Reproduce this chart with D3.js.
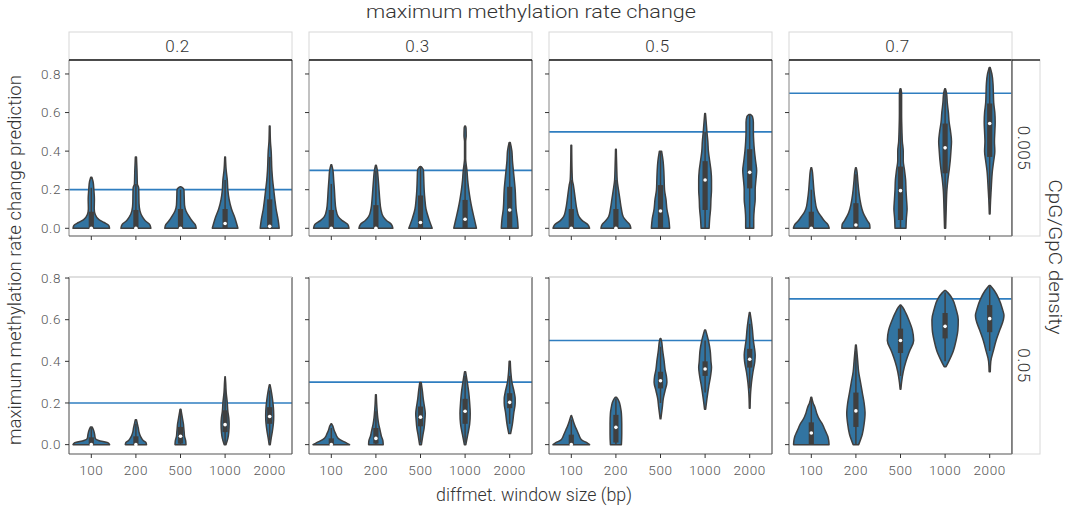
<!DOCTYPE html>
<html><head><meta charset="utf-8">
<script src="https://cdn.jsdelivr.net/npm/d3@7"></script>
<style>
body{margin:0;background:#fff}
svg text{font-family:Roboto,"Liberation Sans",sans-serif;font-weight:300;fill:#333}
</style>
</head><body>
<svg id="chart" width="1068" height="510"></svg>
<script>
// ---------------- data ----------------
const colValues = [0.2, 0.3, 0.5, 0.7];          // maximum methylation rate change (columns)
const rowValues = [0.005, 0.05];                 // CpG/GpC density (rows)
const windowSizes = ["100", "200", "500", "1000", "2000"];
const yTicks = [0.0, 0.2, 0.4, 0.6, 0.8];
const rowYDomains = [[-0.04, 0.8725], [-0.045, 0.805]];

// violin profiles: per window size, list of [value, relative density width]
const prof_r0_c0 = [
  [[0,1],[0.015,0.95],[0.03,0.7],[0.045,0.42],[0.07,0.22],[0.1,0.16],[0.15,0.17],[0.2,0.14],[0.24,0.1],[0.265,0.03]],
  [[0,0.82],[0.02,0.75],[0.04,0.5],[0.06,0.35],[0.09,0.22],[0.13,0.17],[0.18,0.16],[0.21,0.15],[0.23,0.08],[0.3,0.06],[0.37,0.03]],
  [[0,0.86],[0.02,0.8],[0.04,0.62],[0.06,0.48],[0.09,0.3],[0.12,0.22],[0.17,0.2],[0.2,0.19],[0.21,0.12],[0.215,0.03]],
  [[0,0.7],[0.05,0.55],[0.1,0.35],[0.15,0.22],[0.2,0.15],[0.25,0.12],[0.3,0.06],[0.37,0.02]],
  [[0,0.52],[0.05,0.45],[0.1,0.35],[0.15,0.28],[0.2,0.22],[0.25,0.16],[0.3,0.12],[0.4,0.08],[0.45,0.04],[0.53,0.02]]
];
const prof_r0_c1 = [
  [[0,0.97],[0.02,0.9],[0.04,0.6],[0.06,0.38],[0.1,0.25],[0.15,0.2],[0.2,0.17],[0.25,0.13],[0.3,0.09],[0.33,0.02]],
  [[0,0.93],[0.02,0.85],[0.04,0.58],[0.06,0.4],[0.1,0.27],[0.15,0.21],[0.2,0.17],[0.25,0.13],[0.3,0.08],[0.327,0.02]],
  [[0,0.64],[0.05,0.45],[0.1,0.3],[0.15,0.24],[0.2,0.2],[0.25,0.18],[0.3,0.16],[0.315,0.08],[0.32,0.02]],
  [[0,0.62],[0.05,0.5],[0.1,0.38],[0.15,0.28],[0.2,0.2],[0.25,0.14],[0.3,0.1],[0.33,0.06],[0.36,0.03],[0.45,0.03],[0.48,0.06],[0.52,0.05],[0.53,0.02]],
  [[0,0.46],[0.05,0.42],[0.1,0.35],[0.2,0.3],[0.3,0.2],[0.35,0.15],[0.4,0.12],[0.445,0.03]]
];
const prof_r0_c2 = [
  [[0,1],[0.02,0.9],[0.04,0.6],[0.06,0.42],[0.1,0.3],[0.15,0.22],[0.2,0.15],[0.22,0.12],[0.25,0.06],[0.3,0.04],[0.43,0.02]],
  [[0,0.82],[0.02,0.75],[0.04,0.55],[0.06,0.4],[0.1,0.3],[0.15,0.22],[0.2,0.14],[0.25,0.07],[0.3,0.05],[0.41,0.02]],
  [[0,0.5],[0.05,0.45],[0.1,0.35],[0.15,0.3],[0.2,0.22],[0.25,0.2],[0.3,0.18],[0.35,0.14],[0.4,0.06]],
  [[0,0.22],[0.05,0.25],[0.1,0.3],[0.15,0.32],[0.2,0.35],[0.25,0.35],[0.3,0.32],[0.35,0.25],[0.4,0.18],[0.45,0.15],[0.5,0.1],[0.55,0.06],[0.595,0.02]],
  [[0,0.22],[0.05,0.22],[0.1,0.25],[0.15,0.3],[0.2,0.3],[0.25,0.34],[0.3,0.38],[0.35,0.32],[0.4,0.26],[0.45,0.22],[0.5,0.2],[0.55,0.2],[0.58,0.15],[0.59,0.05]]
];
const prof_r0_c3 = [
  [[0,0.98],[0.02,0.9],[0.04,0.7],[0.06,0.55],[0.08,0.4],[0.1,0.3],[0.15,0.2],[0.2,0.14],[0.25,0.1],[0.3,0.05],[0.314,0.02]],
  [[0,0.77],[0.02,0.75],[0.04,0.62],[0.06,0.5],[0.08,0.4],[0.1,0.33],[0.15,0.22],[0.2,0.15],[0.25,0.1],[0.3,0.05],[0.314,0.02]],
  [[0,0.3],[0.05,0.32],[0.1,0.36],[0.15,0.33],[0.2,0.3],[0.25,0.28],[0.3,0.22],[0.35,0.15],[0.4,0.15],[0.45,0.1],[0.5,0.08],[0.6,0.06],[0.7,0.06],[0.724,0.02]],
  [[0,0.03],[0.1,0.06],[0.2,0.1],[0.25,0.15],[0.3,0.22],[0.35,0.28],[0.4,0.32],[0.45,0.35],[0.5,0.3],[0.55,0.22],[0.6,0.18],[0.65,0.12],[0.7,0.08],[0.724,0.02]],
  [[0.074,0.02],[0.15,0.05],[0.2,0.08],[0.3,0.15],[0.35,0.22],[0.4,0.28],[0.45,0.26],[0.5,0.28],[0.55,0.3],[0.6,0.28],[0.65,0.22],[0.7,0.2],[0.75,0.18],[0.8,0.12],[0.833,0.03]]
];
const prof_r1_c0 = [
  [[0,1],[0.01,0.9],[0.02,0.4],[0.03,0.22],[0.05,0.18],[0.07,0.12],[0.085,0.04]],
  [[0,0.58],[0.01,0.55],[0.02,0.4],[0.04,0.25],[0.06,0.17],[0.08,0.13],[0.1,0.08],[0.12,0.03]],
  [[0,0.3],[0.02,0.28],[0.04,0.22],[0.06,0.2],[0.08,0.18],[0.1,0.16],[0.12,0.12],[0.14,0.08],[0.17,0.02]],
  [[0,0.05],[0.03,0.15],[0.06,0.2],[0.1,0.22],[0.13,0.2],[0.16,0.15],[0.2,0.12],[0.25,0.06],[0.3,0.03],[0.326,0.01]],
  [[0,0.03],[0.03,0.08],[0.06,0.14],[0.1,0.2],[0.14,0.22],[0.18,0.2],[0.22,0.15],[0.25,0.1],[0.287,0.02]]
];
const prof_r1_c1 = [
  [[0,1],[0.01,0.8],[0.02,0.55],[0.03,0.38],[0.04,0.3],[0.05,0.25],[0.07,0.15],[0.09,0.08],[0.1,0.02]],
  [[0,0.4],[0.02,0.38],[0.04,0.3],[0.06,0.25],[0.08,0.2],[0.1,0.15],[0.13,0.1],[0.16,0.07],[0.2,0.04],[0.24,0.02]],
  [[0,0.05],[0.04,0.12],[0.08,0.2],[0.12,0.24],[0.15,0.26],[0.18,0.22],[0.22,0.15],[0.26,0.1],[0.298,0.04]],
  [[0,0.04],[0.05,0.15],[0.1,0.25],[0.15,0.28],[0.2,0.25],[0.25,0.2],[0.3,0.12],[0.35,0.03]],
  [[0.053,0.05],[0.1,0.15],[0.15,0.22],[0.2,0.3],[0.22,0.3],[0.25,0.25],[0.3,0.12],[0.35,0.06],[0.4,0.03]]
];
const prof_r1_c2 = [
  [[0,1],[0.01,0.85],[0.02,0.6],[0.03,0.5],[0.05,0.4],[0.07,0.3],[0.09,0.2],[0.11,0.12],[0.13,0.05],[0.14,0.01]],
  [[0,0.3],[0.05,0.32],[0.1,0.32],[0.15,0.3],[0.18,0.25],[0.2,0.2],[0.22,0.1],[0.228,0.03]],
  [[0.124,0.02],[0.18,0.1],[0.22,0.15],[0.26,0.25],[0.3,0.35],[0.33,0.32],[0.36,0.25],[0.4,0.2],[0.45,0.12],[0.5,0.05],[0.51,0.02]],
  [[0.17,0.03],[0.22,0.1],[0.28,0.2],[0.33,0.3],[0.37,0.35],[0.4,0.32],[0.45,0.28],[0.5,0.18],[0.55,0.03]],
  [[0.175,0.02],[0.25,0.05],[0.3,0.1],[0.35,0.18],[0.4,0.28],[0.43,0.3],[0.47,0.25],[0.5,0.2],[0.55,0.15],[0.6,0.08],[0.634,0.02]]
];
const prof_r1_c3 = [
  [[0,0.97],[0.02,0.95],[0.04,0.9],[0.06,0.8],[0.08,0.7],[0.1,0.6],[0.12,0.45],[0.15,0.3],[0.18,0.2],[0.2,0.1],[0.228,0.02]],
  [[0,0.15],[0.05,0.35],[0.1,0.45],[0.15,0.5],[0.2,0.45],[0.25,0.35],[0.3,0.25],[0.35,0.15],[0.4,0.1],[0.45,0.05],[0.478,0.02]],
  [[0.266,0.02],[0.3,0.06],[0.35,0.15],[0.4,0.3],[0.45,0.5],[0.5,0.72],[0.55,0.65],[0.6,0.45],[0.63,0.3],[0.66,0.12],[0.67,0.03]],
  [[0.374,0.05],[0.4,0.2],[0.45,0.45],[0.5,0.6],[0.55,0.7],[0.6,0.72],[0.65,0.6],[0.7,0.4],[0.73,0.15],[0.74,0.03]],
  [[0.35,0.03],[0.4,0.06],[0.45,0.2],[0.5,0.35],[0.55,0.55],[0.6,0.75],[0.62,0.78],[0.65,0.7],[0.7,0.5],[0.74,0.25],[0.764,0.03]]
];

// inner box stats per window size: [whiskerLow, q1, median, q3, whiskerHigh]
const box_r0_c0 = [[0,0,0,0.086,0.21],[0,0,0,0.095,0.23],[0,0,0,0.1,0.2],[0,0,0.025,0.1,0.25],[0,0,0.01,0.15,0.37]];
const box_r0_c1 = [[0,0,0,0.095,0.23],[0,0,0,0.12,0.3],[0,0,0.03,0.17,0.32],[0,0,0.047,0.147,0.33],[0,0,0.095,0.215,0.44]];
const box_r0_c2 = [[0,0,0,0.1,0.25],[0,0,0,0.1,0.25],[0,0,0.09,0.224,0.4],[0,0.095,0.25,0.348,0.5],[0,0.207,0.29,0.41,0.59]];
const box_r0_c3 = [[0,0,0,0.086,0.2],[0,0,0.017,0.13,0.28],[0,0.043,0.195,0.32,0.72],[0.02,0.285,0.417,0.543,0.72],[0.15,0.37,0.543,0.647,0.833]];
const box_r1_c0 = [[0,0,0,0.035,0.08],[0,0,0,0.04,0.1],[0,0.005,0.04,0.085,0.17],[0,0.06,0.096,0.165,0.27],[0.02,0.1,0.135,0.18,0.26]];
const box_r1_c1 = [[0,0,0,0.03,0.08],[0,0.005,0.03,0.08,0.16],[0.01,0.088,0.132,0.183,0.29],[0.01,0.1,0.16,0.22,0.33],[0.1,0.175,0.203,0.247,0.33]];
const box_r1_c2 = [[0,0,0,0.048,0.12],[0,0.01,0.083,0.143,0.22],[0.2,0.27,0.307,0.35,0.47],[0.25,0.33,0.363,0.4,0.5],[0.27,0.37,0.41,0.46,0.58]];
const box_r1_c3 = [[0,0,0.056,0.107,0.22],[0,0.085,0.162,0.25,0.45],[0.33,0.44,0.5,0.557,0.67],[0.4,0.51,0.568,0.632,0.73],[0.45,0.54,0.605,0.67,0.76]];

const profiles = [[prof_r0_c0, prof_r0_c1, prof_r0_c2, prof_r0_c3],
                  [prof_r1_c0, prof_r1_c1, prof_r1_c2, prof_r1_c3]];
const boxes = [[box_r0_c0, box_r0_c1, box_r0_c2, box_r0_c3],
               [box_r1_c0, box_r1_c1, box_r1_c2, box_r1_c3]];

// ---------------- layout ----------------
const svg = d3.select("#chart");
const panelX0 = 69, panelW = 223, panelGap = 17;
const rowTop = [60, 277], rowBot = [236, 454];
const stripTop = 32;
const stripRightX = 1012, stripRightW = 28;
const violinFill = "#3274a1", darkGray = "#3f3f3f", refColor = "#2f7ec0";

const yScales = rowYDomains.map((d, r) => d3.scaleLinear().domain(d).range([rowBot[r], rowTop[r]]));

colValues.forEach((cv, c) => {
  const px = panelX0 + c * (panelW + panelGap);
  const x = d3.scaleBand().domain(windowSizes).range([px, px + panelW]).padding(0);
  const halfMax = x.bandwidth() * 0.41;

  // top strip
  svg.append("rect").attr("x", px).attr("y", stripTop).attr("width", panelW).attr("height", rowTop[0] - stripTop)
    .attr("fill", "#fff").attr("stroke", "#d8d8d8").attr("stroke-width", 1);
  svg.append("text").attr("x", px + panelW / 2 - 3).attr("y", (stripTop + rowTop[0]) / 2).attr("dy", "0.35em")
    .attr("text-anchor", "middle").style("font-size", "17px").style("letter-spacing", "0.5px").text(String(cv));

  rowValues.forEach((rv, r) => {
    const y = yScales[r];
    const g = svg.append("g");
    g.append("rect").attr("x", px).attr("y", rowTop[r]).attr("width", panelW).attr("height", rowBot[r] - rowTop[r])
      .attr("fill", "#fff");

    // reference line
    g.append("line").attr("x1", px).attr("x2", px + panelW).attr("y1", y(cv)).attr("y2", y(cv))
      .attr("stroke", refColor).attr("stroke-width", 1.7);

    // violins
    windowSizes.forEach((w, i) => {
      const cx = x(w) + x.bandwidth() / 2;
      const prof = profiles[r][c][i];
      const area = d3.area().curve(d3.curveMonotoneY)
        .y(d => y(d[0])).x0(d => cx - d[1] * halfMax).x1(d => cx + d[1] * halfMax);
      g.append("path").attr("d", area(prof)).attr("fill", violinFill)
        .attr("stroke", darkGray).attr("stroke-width", 1.5).attr("stroke-linejoin", "round");
      const [wl, q1, med, q3, wh] = boxes[r][c][i];
      g.append("line").attr("x1", cx).attr("x2", cx).attr("y1", y(wl)).attr("y2", y(wh))
        .attr("stroke", darkGray).attr("stroke-width", 1.5);
      g.append("rect").attr("x", cx - 2.6).attr("width", 5.2).attr("y", y(q3)).attr("height", Math.max(1, y(q1) - y(q3)))
        .attr("fill", darkGray);
      g.append("circle").attr("cx", cx).attr("cy", y(med)).attr("r", 1.8).attr("fill", "#fff");
    });

    // borders
    g.append("line").attr("x1", px).attr("x2", px).attr("y1", rowTop[r]).attr("y2", rowBot[r]).attr("stroke", r === 0 ? "#999" : "#666").attr("stroke-width", 1.2);
    g.append("line").attr("x1", px + panelW).attr("x2", px + panelW).attr("y1", rowTop[r]).attr("y2", rowBot[r]).attr("stroke", "#555").attr("stroke-width", 1.2);
    g.append("line").attr("x1", px).attr("x2", px + panelW).attr("y1", rowBot[r]).attr("y2", rowBot[r]).attr("stroke", "#555").attr("stroke-width", 1.2);
    g.append("line").attr("x1", px).attr("x2", px + panelW).attr("y1", rowTop[r]).attr("y2", rowTop[r])
      .attr("stroke", r === 0 ? "#111" : "#d5d5d5").attr("stroke-width", r === 0 ? 1.3 : 1.5);

    // y ticks
    yTicks.forEach(t => {
      g.append("line").attr("x1", px - 4).attr("x2", px).attr("y1", y(t)).attr("y2", y(t)).attr("stroke", "#333").attr("stroke-width", 1);
      if (c === 0) {
        g.append("text").attr("x", px - 8).attr("y", y(t)).attr("dy", "0.35em").attr("text-anchor", "end")
          .style("font-size", "13.5px").style("letter-spacing", "0.6px").style("fill", "#555").text(t.toFixed(1));
      }
    });
    // x ticks
    windowSizes.forEach(w => {
      const cx = x(w) + x.bandwidth() / 2;
      g.append("line").attr("x1", cx).attr("x2", cx).attr("y1", rowBot[r]).attr("y2", rowBot[r] + 4).attr("stroke", "#333").attr("stroke-width", 1);
      if (r === 1) {
        g.append("text").attr("x", cx).attr("y", rowBot[r] + 16).attr("dy", "0.35em").attr("text-anchor", "middle")
          .style("font-size", "13.5px").style("letter-spacing", "0.6px").style("fill", "#555").text(w);
      }
    });
  });
});

// right strips
rowValues.forEach((rv, r) => {
  svg.append("rect").attr("x", stripRightX).attr("y", rowTop[r]).attr("width", stripRightW).attr("height", rowBot[r] - rowTop[r])
    .attr("fill", "#fff").attr("stroke", "#d8d8d8");
  svg.append("line").attr("x1", stripRightX).attr("x2", stripRightX).attr("y1", rowTop[r]).attr("y2", rowBot[r]).attr("stroke", "#555").attr("stroke-width", 1.2);
  if (r === 0) svg.append("line").attr("x1", stripRightX).attr("x2", stripRightX + stripRightW).attr("y1", rowTop[0]).attr("y2", rowTop[0]).attr("stroke", "#111").attr("stroke-width", 1.3);
  const cy = (rowTop[r] + rowBot[r]) / 2;
  svg.append("text").attr("transform", `translate(${stripRightX + stripRightW / 2 - 2},${cy}) rotate(90)`)
    .attr("dy", "0.35em").attr("text-anchor", "middle").style("font-size", "17px").style("letter-spacing", "0.5px").text(String(rv));
});

// titles
svg.append("text").attr("x", 531).attr("y", 12).attr("dy", "0.35em").attr("text-anchor", "middle")
  .attr("textLength", 330).attr("lengthAdjust", "spacingAndGlyphs")
  .style("font-size", "18px").text("maximum methylation rate change");
svg.append("text").attr("x", 534).attr("y", 495).attr("dy", "0.35em").attr("text-anchor", "middle")
  .attr("textLength", 196).attr("lengthAdjust", "spacingAndGlyphs")
  .style("font-size", "18px").text("diffmet. window size (bp)");
svg.append("text").attr("transform", `translate(15,260) rotate(-90)`)
  .attr("dy", "0.35em").attr("text-anchor", "middle")
  .attr("textLength", 370).attr("lengthAdjust", "spacingAndGlyphs")
  .style("font-size", "18px").text("maximum methylation rate change prediction");
svg.append("text").attr("transform", `translate(1055,257) rotate(90)`)
  .attr("dy", "0.35em").attr("text-anchor", "middle")
  .attr("textLength", 155).attr("lengthAdjust", "spacingAndGlyphs")
  .style("font-size", "18px").text("CpG/GpC density");
</script>
</body></html>
